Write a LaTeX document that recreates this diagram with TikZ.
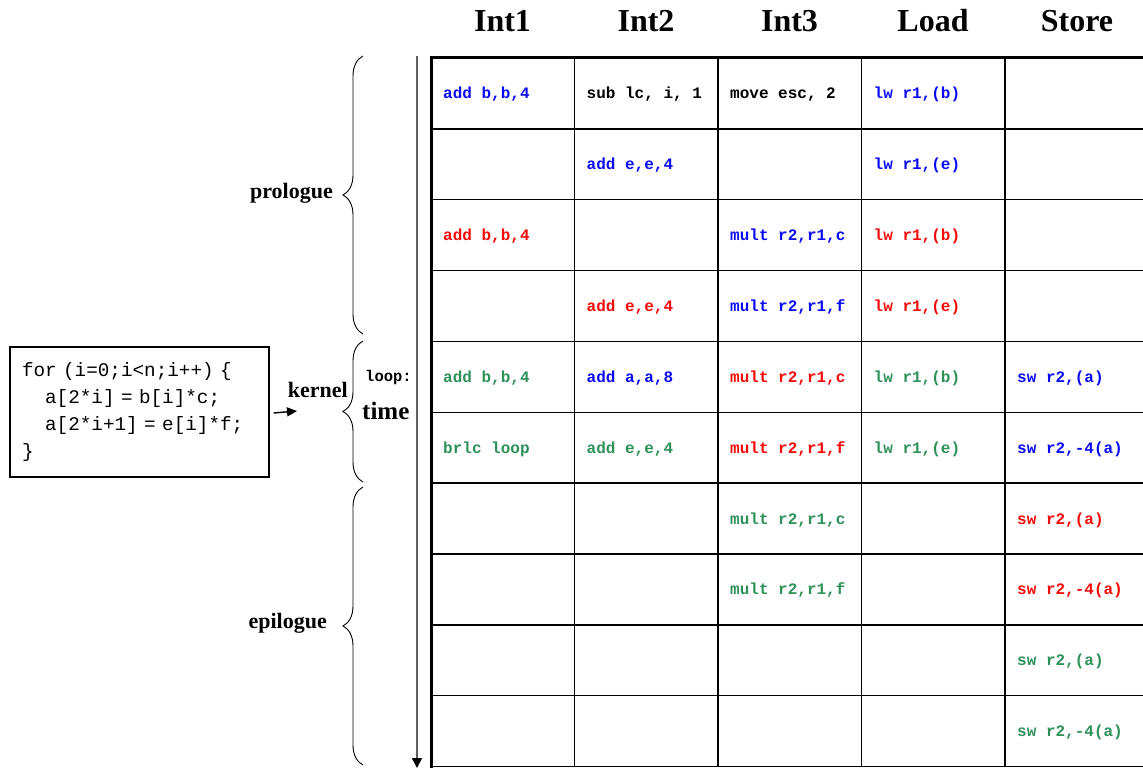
\documentclass[tikz,border=0pt]{standalone}
\usepackage{fontspec}
\setmainfont{Liberation Serif}
\newfontfamily\codefont{Liberation Mono}[WordSpace={1,0,0}]
\usetikzlibrary{arrows.meta,decorations.pathreplacing}

\definecolor{opblue}{RGB}{10,10,245}
\definecolor{opred}{RGB}{245,10,10}
\definecolor{opgreen}{RGB}{46,145,90}
\definecolor{axisgray}{RGB}{95,95,95}

\begin{document}
\begin{tikzpicture}[x=1pt,y=-1pt,
  head/.style={font=\fontsize{32}{36}\selectfont\bfseries, anchor=base, inner sep=0},
  phase/.style={font=\fontsize{22}{26}\selectfont\bfseries, anchor=base east, inner sep=0},
  op/.style={font=\codefont\bfseries\fontsize{16}{18}\selectfont, anchor=base west, inner sep=0},
  gridline/.style={line width=1.4pt, black},
  frame/.style={line width=3pt, black},
  bracebar/.style={decorate, decoration={brace, amplitude=20pt}, line width=0.9pt},
  codebox/.style={draw, line width=1.2pt, minimum width=259pt, minimum height=130pt,
    inner xsep=12pt, text width=235pt, align=left,
    font=\codefont\fontsize{19.3}{26.7}\selectfont},
]
\useasboundingbox (0,0) rectangle (1143,768);

% column and row positions of the schedule table
\def\colA{431}\def\colB{574.5}\def\colC{718}\def\colD{861.5}\def\colE{1005}
\def\rowH{70.85}

% header labels
\node[head] (h1) at (502.5,32) {Int1};
\node[head] (h2) at (646,32) {Int2};
\node[head] (h3) at (789.5,32) {Int3};
\node[head] (h4) at (933,32) {Load};
\node[head] (h5) at (1077,32) {Store};

% table grid
\foreach \k in {1,...,9}
  \draw[gridline] (\colA,58+\k*\rowH) -- (1143,58+\k*\rowH);
\foreach \xc in {\colB,\colC,\colD,\colE}
  \draw[gridline] (\xc,58) -- (\xc,767);
\draw[gridline] (\colA,766.3) -- (1143,766.3);
\draw[frame] (429.5,58) -- (1143,58);
\draw[frame] (431,56.5) -- (431,768);

% time axis
\coordinate (tstart) at (417,56);
\coordinate (tend) at (417,768);
\draw[axisgray, line width=1.5pt, -{Triangle[length=10pt,width=10pt,color=black]}] (tstart) -- (tend);

% phase braces
\draw[bracebar] (363,334) -- (363,56) node[midway] (bpro) {};
\draw[bracebar] (363,482) -- (363,341) node[midway] (bker) {};
\draw[bracebar] (363,765) -- (363,487) node[midway] (bepi) {};

\node[phase] (lpro) at (333,198) {prologue};
\node[phase] (lker) at (348,397) {kernel};
\node[phase] (lepi) at (327,628) {epilogue};

\node[font=\codefont\bfseries\fontsize{15.5}{17}\selectfont, anchor=base west, inner sep=0] (loop) at (365,381) {loop:};
\node[font=\fontsize{25}{28}\selectfont\bfseries, anchor=base west, inner sep=0] (time) at (362,419) {time};

% source loop
\node[codebox] (code) at (139.5,412) {for (i=0;i<n;i++) \{\\
\phantom{aa}a[2*i] = b[i]*c;\\
\phantom{aa}a[2*i+1] = e[i]*f;\\
\}};
\coordinate (karrow) at (297,411);
\draw[line width=1.4pt, -{Triangle[length=10pt,width=9pt]}] ([xshift=4pt,yshift=-1pt]code.east) -- (karrow);

% schedule entries: \cell{name}{row}{column x}{colour}{text}
\newcommand\cell[5]{\node[op, text=#4] (#1) at ({#3+12},{58+(#2-0.5)*\rowH+5.5}) {#5};}

\cell{a1}{1}{\colA}{opblue}{add b,b,4}
\cell{b1}{1}{\colB}{black}{sub lc, i, 1}
\cell{c1}{1}{\colC}{black}{move esc, 2}
\cell{d1}{1}{\colD}{opblue}{lw r1,(b)}

\cell{b2}{2}{\colB}{opblue}{add e,e,4}
\cell{d2}{2}{\colD}{opblue}{lw r1,(e)}

\cell{a3}{3}{\colA}{opred}{add b,b,4}
\cell{c3}{3}{\colC}{opblue}{mult r2,r1,c}
\cell{d3}{3}{\colD}{opred}{lw r1,(b)}

\cell{b4}{4}{\colB}{opred}{add e,e,4}
\cell{c4}{4}{\colC}{opblue}{mult r2,r1,f}
\cell{d4}{4}{\colD}{opred}{lw r1,(e)}

\cell{a5}{5}{\colA}{opgreen}{add b,b,4}
\cell{b5}{5}{\colB}{opblue}{add a,a,8}
\cell{c5}{5}{\colC}{opred}{mult r2,r1,c}
\cell{d5}{5}{\colD}{opgreen}{lw r1,(b)}
\cell{e5}{5}{\colE}{opblue}{sw r2,(a)}

\cell{a6}{6}{\colA}{opgreen}{brlc loop}
\cell{b6}{6}{\colB}{opgreen}{add e,e,4}
\cell{c6}{6}{\colC}{opred}{mult r2,r1,f}
\cell{d6}{6}{\colD}{opgreen}{lw r1,(e)}
\cell{e6}{6}{\colE}{opblue}{sw r2,-4(a)}

\cell{c7}{7}{\colC}{opgreen}{mult r2,r1,c}
\cell{e7}{7}{\colE}{opred}{sw r2,(a)}

\cell{c8}{8}{\colC}{opgreen}{mult r2,r1,f}
\cell{e8}{8}{\colE}{opred}{sw r2,-4(a)}

\cell{e9}{9}{\colE}{opgreen}{sw r2,(a)}
\cell{e10}{10}{\colE}{opgreen}{sw r2,-4(a)}
\end{tikzpicture}
\end{document}
